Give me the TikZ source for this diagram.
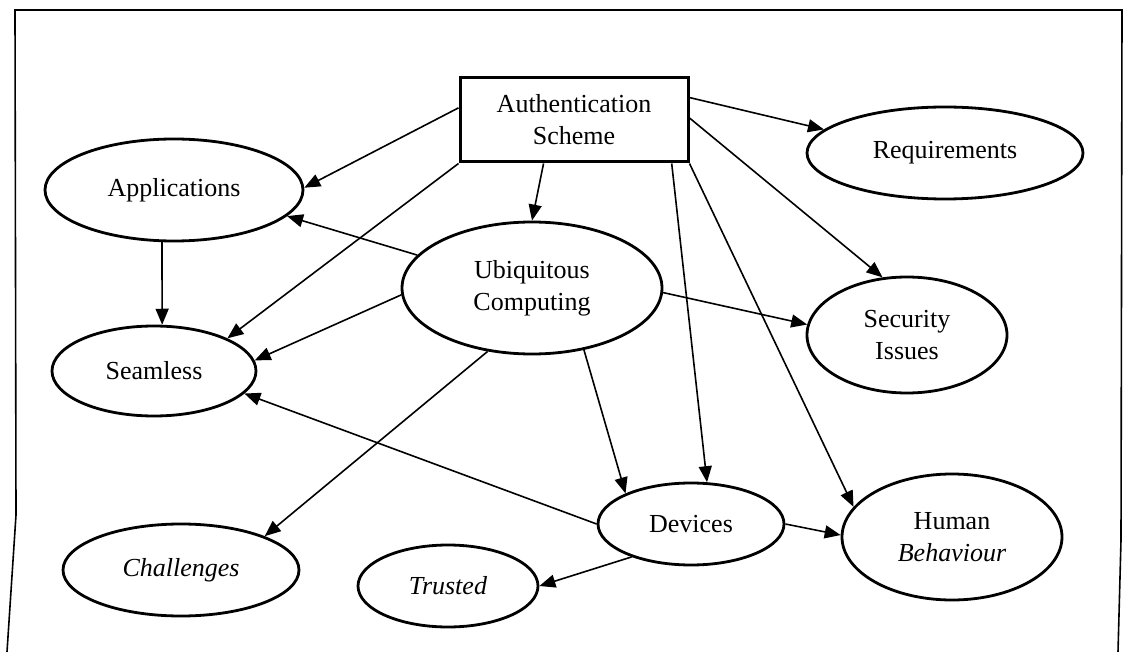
\documentclass[tikz,border=0pt]{standalone}
\usepackage{fontspec}
\setmainfont{Liberation Serif}
\usetikzlibrary{shapes.geometric,arrows.meta}
\tikzset{
  lbl/.style={font=\fontsize{26}{32}\selectfont, align=center, inner sep=0pt},
  oval/.style={lbl, ellipse, draw, line width=2.8pt},
  schemebox/.style={lbl, rectangle, draw, line width=3pt,
                    minimum width=228pt, minimum height=84pt},
  link/.style={line width=1.6pt, -{Triangle[length=16pt,width=13pt]}},
  frame/.style={line width=1.6pt}
}
\begin{document}
\begin{tikzpicture}[x=1pt,y=-1pt]
  \useasboundingbox (0,0) rectangle (1125,652);
  % page frame, open at the bottom
  \draw[frame] (7,652) -- (16,515) -- (15,10) -- (1122,10) -- (1121,540) -- (1118,652);

  % nodes
  \node[schemebox] (auth) at (574,120) {Authentication\\Scheme};
  \node[oval, minimum width=276pt, minimum height=92pt]  (req) at (945,153) {Requirements};
  \node[oval, minimum width=258pt, minimum height=102pt] (app) at (174,190) {Applications};
  \node[oval, minimum width=204pt, minimum height=90pt]  (sea) at (154,371) {Seamless};
  \node[oval, minimum width=236pt, minimum height=92pt]  (cha) at (181,570) {\itshape Challenges};
  \node[oval, minimum width=260pt, minimum height=132pt] (ubi) at (532,288) {Ubiquitous\\Computing};
  \node[oval, minimum width=186pt, minimum height=82pt]  (dev) at (691,524) {Devices};
  \node[oval, minimum width=180pt, minimum height=82pt]  (tru) at (448,586) {\itshape Trusted};
  \node[oval, minimum width=200pt, minimum height=116pt] (sec) at (907,335) {Security\\Issues};
  \node[oval, minimum width=220pt, minimum height=126pt] (hum) at (952,537) {Human\\\itshape Behaviour};

  % connectors from the authentication scheme
  \draw[link] (auth.174) -- (app.1);
  \draw[link] (auth.south west) -- (sea.24);
  \draw[link] (auth.235) -- (ubi.90);
  \draw[link] (auth.11) -- (req.169);
  \draw[link] (auth.1.5) -- (sec.113);
  \draw[link] (auth.336) -- (dev.69);
  \draw[link] (auth.south east) -- (hum.163);

  % remaining connectors
  \draw[link] (app.257) -- (sea.80);
  \draw[link] (ubi.164) -- (app.347);
  \draw[link] (ubi.183.5) -- (sea.6);
  \draw[link] (ubi.358) -- (sec.174);
  \draw[link] (ubi.235) -- (cha.22);
  \draw[link] (ubi.310.5) -- (dev.155);
  \draw[link] (dev.180) -- (sea.346);
  \draw[link] (dev.209) -- (tru.0);
  \draw[link] (dev.0) -- (hum.179);
\end{tikzpicture}
\end{document}
